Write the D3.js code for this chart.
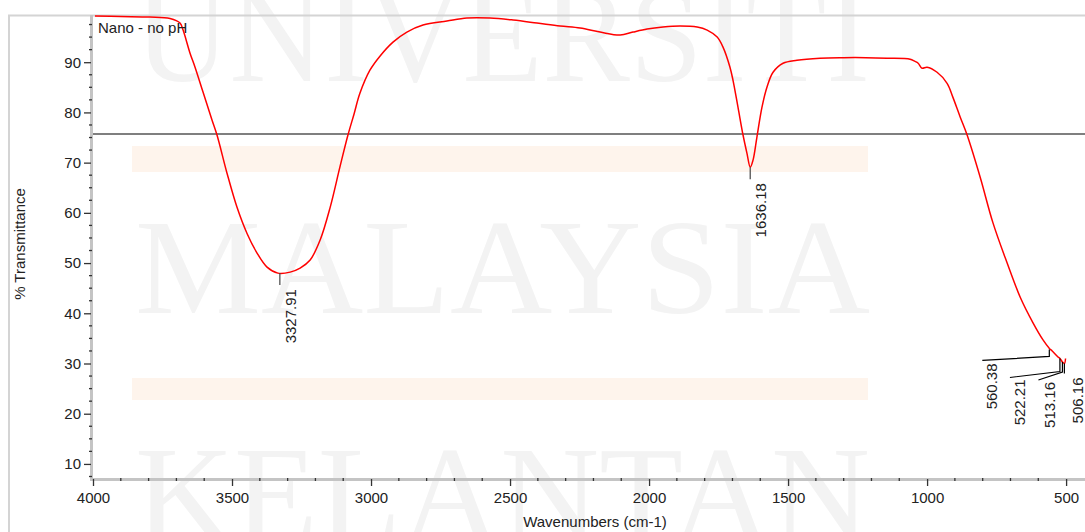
<!DOCTYPE html>
<html><head><meta charset="utf-8">
<script src="https://cdn.jsdelivr.net/npm/d3@7"></script>
<style>
body{margin:0;background:#fff}
svg{display:block}
text{font-family:"Liberation Sans",Arial,sans-serif}
</style>
</head><body>
<svg id="c" width="1085" height="532"></svg>
<script>
// ---- data ----
const wavenumbers = [3993,3900,3795,3723,3687,3676,3651,3633,3604,3572,3554,3518,3482,3446,3410,3374,3335,3291,3255,3219,3183,3147,3112,3083,3061,3040,3004,2968,2921,2871,2813,2727,2655,2572,2489,2403,2320,2248,2176,2104,2058,2007,1950,1889,1827,1791,1755,1734,1709,1698,1680,1662,1648,1636,1626,1612,1594,1576,1554,1518,1468,1385,1300,1220,1144,1061,1045,1032,1018,1000,964,928,907,881,856,809,763,712,665,619,583,560,550,529,522,513,506,502];
const transmittance = [99.2,99.1,99.0,98.7,97.8,96.4,91.8,89.0,84.0,78.5,75.5,67.9,61.1,55.9,52.0,49.2,48.0,48.2,49.0,50.6,54.6,61.1,69.1,75.5,79.7,83.8,88.4,91.2,94.0,96.0,97.4,98.2,98.8,98.8,98.4,97.8,97.2,96.8,96.0,95.4,96.0,96.6,97.0,97.2,97.0,96.4,95.0,93.0,89.0,86.4,81.0,75.5,71.9,69.1,70.5,75.1,81.0,85.0,88.0,89.8,90.4,90.8,90.9,90.9,90.8,90.6,90.2,89.8,88.8,89.0,88.0,85.8,83.0,79.1,75.5,67.1,58.0,50.0,43.2,38.1,34.7,33.0,32.5,31.3,31.0,30.3,30.0,31.0];
const xMajorTicks = [4000,3500,3000,2500,2000,1500,1000,500];
const yMajorTicks = [10,20,30,40,50,60,70,80,90];
const peakWavenumbers = [3327.91,1636.18,560.38,522.21,513.16,506.16];
const peakValues = [48.0,69.1,32.8,31.0,30.3,30.0];
const peakLabels = ["3327.91","1636.18","560.38","522.21","513.16","506.16"];
const referenceLevels = [75.7];
const seriesName = "Nano - no pH";
const xTitle = "Wavenumbers (cm-1)";
const yTitle = "% Transmittance";
const watermarkWords = ["UNIVERSITI","MALAYSIA","KELANTAN"];

// ---- layout ----
const W = 1085, H = 532;
const L = 93, R = 1085, T = 15, B = 479;
const svg = d3.select("#c");
const x = d3.scaleLinear().domain([4000, 432]).range([L, R]);
const y = d3.scaleLinear().domain([7, 99.4]).range([B, T]);

// watermark
const wmBase = [81, 313, 540];
svg.append("g").selectAll("text").data(watermarkWords).join("text")
  .attr("x", 135).attr("y", (d,i)=>wmBase[i])
  .attr("textLength", 735).attr("lengthAdjust","spacingAndGlyphs")
  .style("font-family","'Liberation Serif','Times New Roman',serif")
  .style("font-size","136px").attr("fill","#f3f3f3").text(d=>d);

// light orange bands
svg.append("rect").attr("x",132).attr("y",146).attr("width",736).attr("height",26).attr("fill","#fef4ec");
svg.append("rect").attr("x",132).attr("y",378).attr("width",736).attr("height",22).attr("fill","#fef4ec");

// frame
svg.append("line").attr("x1",8).attr("x2",W).attr("y1",15.5).attr("y2",15.5).attr("stroke","#d4d4d4").attr("stroke-width",2);
svg.append("line").attr("x1",9).attr("x2",9).attr("y1",15).attr("y2",H).attr("stroke","#d4d4d4").attr("stroke-width",2);

// reference line
svg.append("g").selectAll("line").data(referenceLevels).join("line")
  .attr("x1",L-1).attr("x2",R).attr("y1",d=>y(d)).attr("y2",d=>y(d))
  .attr("stroke","#555").attr("stroke-width",1.5);

// axes bars
svg.append("rect").attr("x",L-3).attr("y",T).attr("width",3).attr("height",B-T+2).attr("fill","#c4c4c4");
svg.append("rect").attr("x",L-3).attr("y",B-1).attr("width",R-L+3).attr("height",3).attr("fill","#c4c4c4");

// y minor ticks
const yMinor = d3.range(7.5, 99, 2.5).filter(v=>v%10!==0);
svg.append("g").selectAll("line").data(yMinor).join("line")
  .attr("x1",L-4).attr("x2",L-1).attr("y1",d=>y(d)).attr("y2",d=>y(d))
  .attr("stroke","#333").attr("stroke-width",1.3);
// x minor ticks
const xMinor = d3.range(3900, 432, -100).filter(v=>v%500!==0);
svg.append("g").selectAll("line").data(xMinor).join("line")
  .attr("x1",d=>x(d)).attr("x2",d=>x(d)).attr("y1",B-1).attr("y2",B+2)
  .attr("stroke","#333").attr("stroke-width",1.3);

// y axis majors
const yAxis = svg.append("g").attr("transform",`translate(${L-2},0)`)
  .call(d3.axisLeft(y).tickValues(yMajorTicks).tickSize(7).tickPadding(3).tickFormat(d3.format("d")));
yAxis.select(".domain").remove();
yAxis.selectAll(".tick line").attr("stroke","#333").attr("stroke-width",1.3);
yAxis.selectAll(".tick text").attr("fill","#222").style("font-size","15px").style("font-family","'Liberation Sans',Arial,sans-serif");

// x axis majors
const xAxis = svg.append("g").attr("transform",`translate(0,${B})`)
  .call(d3.axisBottom(x).tickValues(xMajorTicks).tickSize(7).tickPadding(6).tickFormat(d3.format("d")));
xAxis.select(".domain").remove();
xAxis.selectAll(".tick line").attr("stroke","#333").attr("stroke-width",1.3);
xAxis.selectAll(".tick text").attr("fill","#222").style("font-size","15px").style("font-family","'Liberation Sans',Arial,sans-serif");

// titles
svg.append("text").attr("x",(L+R)/2+6).attr("y",527).attr("text-anchor","middle")
  .attr("fill","#222").style("font-size","15px").text(xTitle);
svg.append("text").attr("transform","translate(25,244) rotate(-90)").attr("text-anchor","middle")
  .attr("fill","#222").style("font-size","15px").text(yTitle);

// spectrum
const pts = wavenumbers.map((w,i)=>[w, transmittance[i]]);
svg.append("path").datum(pts)
  .attr("fill","none").attr("stroke","#ff0000").attr("stroke-width",1.5)
  .attr("d", d3.line().x(d=>x(d[0])).y(d=>y(d[1])).curve(d3.curveCatmullRom.alpha(0.5)));

// legend
svg.append("text").attr("x",98).attr("y",33).attr("fill","#222").style("font-size","15px").text(seriesName);

// peak annotations (leader geometry relative to the peak point)
const leaderLayout = [
  {bend:12, ex:0, ey:12, lx:11, ly:16},
  {bend:12, ex:0, ey:12, lx:11, ly:16},
  {bend:7, ex:-67, ey:11, lx:-58, ly:14},
  {bend:13, ex:-50, ey:19, lx:-40, ly:21},
  {bend:10, ex:-24, ey:18, lx:-13, ly:20},
  {bend:10, ex:0, ey:10, lx:13, ly:14}
];
const ann = svg.append("g");
peakWavenumbers.forEach((w,i)=>{
  const px = x(w), py = y(peakValues[i]), o = leaderLayout[i];
  ann.append("path")
    .attr("d", d3.line()([[px,py],[px,py+o.bend],[px+o.ex,py+o.ey]]))
    .attr("fill","none").attr("stroke",i<2?"#444":"#000").attr("stroke-width",1.2);
  ann.append("text")
    .attr("transform",`translate(${px+o.lx},${py+o.ly}) rotate(-90)`)
    .attr("text-anchor","end").attr("dy","0.35em")
    .attr("fill","#222").style("font-size","15px").text(peakLabels[i]);
});
</script>
</body></html>
